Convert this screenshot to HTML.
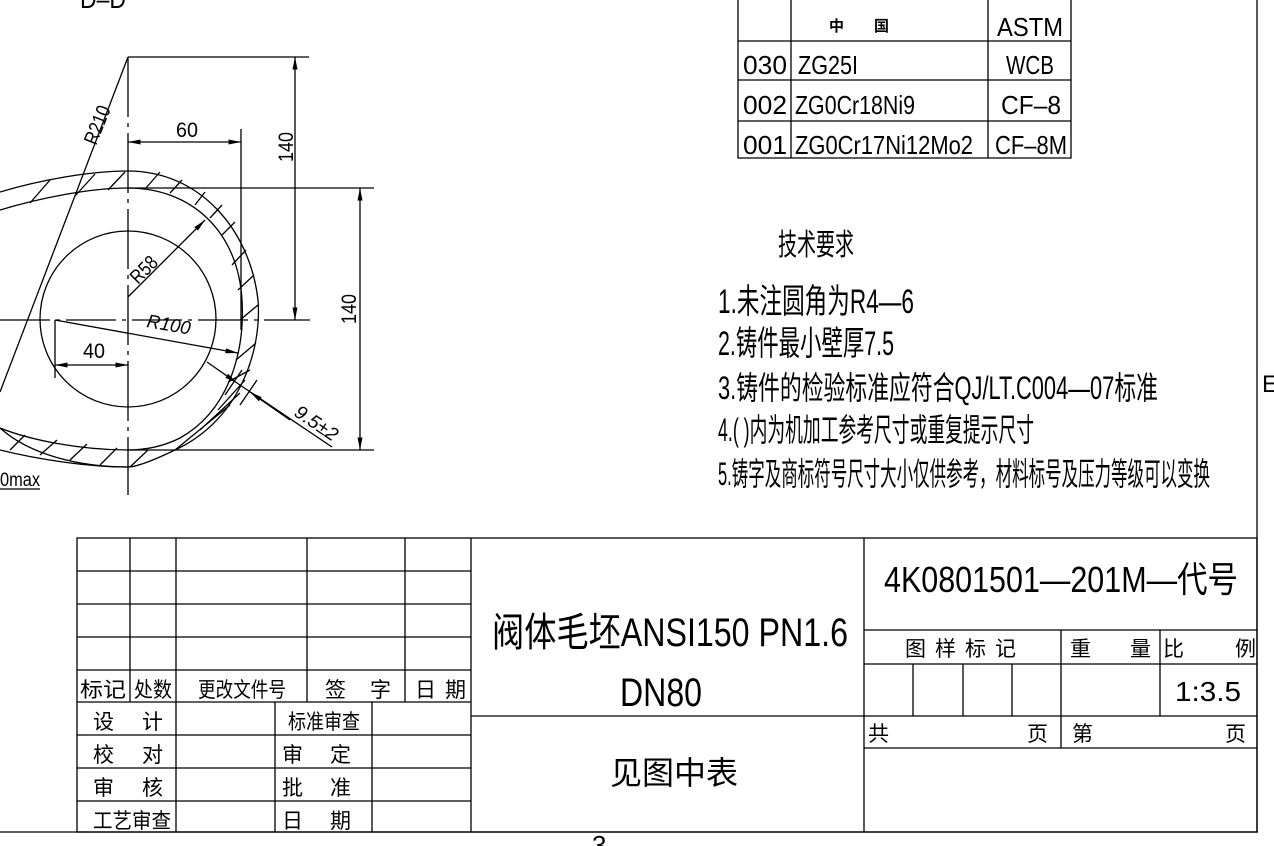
<!DOCTYPE html>
<html><head><meta charset="utf-8"><style>
html,body{margin:0;padding:0;background:#fff;}
svg{display:block;}
text{font-family:"Liberation Sans","Noto Sans CJK SC",sans-serif;fill:#000;}
</style></head><body>
<svg width="1274" height="846" viewBox="0 0 1274 846" xmlns="http://www.w3.org/2000/svg">
<defs>
<marker id="a" viewBox="0 0 10 4" refX="10" refY="2" markerWidth="14" markerHeight="5" orient="auto-start-reverse" markerUnits="userSpaceOnUse"><path d="M0,0L10,2L0,4z" fill="#000"/></marker>
</defs>
<g stroke="#000" fill="none" stroke-width="1.3">
<line x1="128" y1="57" x2="128" y2="495" stroke-dasharray="60,6,4,6"/>
<line x1="0" y1="320" x2="310" y2="320" stroke-dasharray="50,6,4,6"/>
<line x1="128" y1="57" x2="309" y2="57"/>
<line x1="128" y1="188" x2="374" y2="188"/>
<line x1="128" y1="450" x2="374" y2="450"/>
<line x1="128" y1="57" x2="0" y2="392"/>
<circle cx="128" cy="319" r="88"/>
<path d="M0,192 C40,180 90,171 128,171 C200,171 250,230 258,300 C262,350 240,420 175,450 C150,462 135,467 128,467 C80,467 30,455 0,428"/>
<path d="M0,210 C40,198 90,188 128,188 C190,188 238,230 242,300 C245,350 230,410 180,438 C160,448 140,450 128,450 C80,450 30,440 0,428"/>
<path d="M0,450 C40,460 90,467 128,467"/>
<path d="M30,203 L50,180 M75,196 L95,174 M108,190 L125,172 M145,189 L160,172 M170,193 L182,180 M195,205 L205,192 M210,218 L222,205 M222,235 L235,222 M232,265 L246,250 M238,290 L254,275 M240,320 L258,305 M236,360 L256,343 M228,382 L250,370 M218,410 L245,380 M200,430 L240,393 M175,450 L230,405 M130,467 L148,450 M100,465 L117,448 M70,460 L87,444 M40,455 L57,440 M10,450 L25,435"/>
<line x1="295" y1="57" x2="295" y2="320" marker-start="url(#a)" marker-end="url(#a)"/>
<line x1="360" y1="188" x2="360" y2="450" marker-start="url(#a)" marker-end="url(#a)"/>
<line x1="241" y1="129" x2="241" y2="330"/>
<line x1="128" y1="142" x2="241" y2="142" marker-start="url(#a)" marker-end="url(#a)"/>
<line x1="128" y1="297" x2="205" y2="220" marker-end="url(#a)"/>
<line x1="55" y1="320" x2="238" y2="353" marker-end="url(#a)"/>
<line x1="55" y1="320" x2="55" y2="378"/>
<line x1="55" y1="365" x2="128" y2="365" marker-start="url(#a)" marker-end="url(#a)"/>
<line x1="207" y1="362" x2="237" y2="383" marker-end="url(#a)"/>
<line x1="290" y1="420" x2="250" y2="392" marker-end="url(#a)"/>
<line x1="237" y1="383" x2="332" y2="447"/>
<line x1="242" y1="370" x2="225" y2="395"/><line x1="257" y1="380" x2="240" y2="405"/>
<line x1="0" y1="489" x2="40" y2="489"/>
<line x1="1257" y1="0" x2="1257" y2="832"/>
<line x1="0" y1="832" x2="1258" y2="832"/>
<rect x="77" y="538" width="1180" height="294"/>
<path d="M77,571H471M77,604H471M77,637H471M77,670H471M77,702H471M77,735H471M77,768H471M77,801H471"/>
<path d="M130,538V702M176,538V832M307,538V702M405,538V702M471,538V832M275,702V832M372,702V832"/>
<path d="M471,716H864M864,538V832"/>
<path d="M864,630H1257M864,664H1257M864,716H1257M864,748H1257"/>
<path d="M1061,630V748M1160,630V716M913,664V716M963,664V716M1012,664V716"/>
<path d="M738,0V158H1071V0M791,0V158M988,0V158M738,41H1071M738,80H1071M738,121H1071"/>
</g>
<g font-size="22">
<text x="80" y="8" font-size="26" textLength="46" lengthAdjust="spacingAndGlyphs">D–D</text>
<text x="176" y="137" font-size="21" textLength="22" lengthAdjust="spacingAndGlyphs">60</text>
<text x="83" y="358" font-size="21" textLength="22" lengthAdjust="spacingAndGlyphs">40</text>
<text transform="translate(293,162) rotate(-90)" font-size="21" textLength="30" lengthAdjust="spacingAndGlyphs">140</text>
<text transform="translate(356,324) rotate(-90)" font-size="21" textLength="30" lengthAdjust="spacingAndGlyphs">140</text>
<text transform="translate(96,146) rotate(-68)" font-size="20" textLength="40" lengthAdjust="spacingAndGlyphs">R210</text>
<text transform="translate(138,285) rotate(-45)" font-size="20" textLength="30" lengthAdjust="spacingAndGlyphs">R58</text>
<text transform="translate(146,327) rotate(10)" font-size="19" font-style="italic" textLength="44" lengthAdjust="spacingAndGlyphs">R100</text>
<text transform="translate(293,415) rotate(34)" font-size="19" font-style="italic" textLength="48" lengthAdjust="spacingAndGlyphs">9.5±2</text>
<text x="0" y="486" font-size="19" textLength="40" lengthAdjust="spacingAndGlyphs">0max</text>
<text x="1262" y="392" font-size="24">E</text>
<text x="592" y="854" font-size="26">3</text>
</g>
<g font-size="26">
<text x="829" y="31" font-size="15" font-weight="bold">中　　国</text>
<text x="997" y="36" textLength="66" lengthAdjust="spacingAndGlyphs">ASTM</text>
<text x="743" y="74" textLength="44" lengthAdjust="spacingAndGlyphs">030</text>
<text x="798" y="74" textLength="60" lengthAdjust="spacingAndGlyphs">ZG25I</text>
<text x="1006" y="74" textLength="48" lengthAdjust="spacingAndGlyphs">WCB</text>
<text x="743" y="114" textLength="44" lengthAdjust="spacingAndGlyphs">002</text>
<text x="795" y="114" textLength="120" lengthAdjust="spacingAndGlyphs">ZG0Cr18Ni9</text>
<text x="1001" y="114" textLength="60" lengthAdjust="spacingAndGlyphs">CF–8</text>
<text x="743" y="154" textLength="44" lengthAdjust="spacingAndGlyphs">001</text>
<text x="795" y="154" textLength="178" lengthAdjust="spacingAndGlyphs">ZG0Cr17Ni12Mo2</text>
<text x="995" y="154" textLength="72" lengthAdjust="spacingAndGlyphs">CF–8M</text>
</g>
<g>
<text x="778" y="255" font-size="30" textLength="76" lengthAdjust="spacingAndGlyphs">技术要求</text>
<text x="718" y="313" font-size="34" textLength="196" lengthAdjust="spacingAndGlyphs">1.未注圆角为R4—6</text>
<text x="718" y="355" font-size="34" textLength="176" lengthAdjust="spacingAndGlyphs">2.铸件最小壁厚7.5</text>
<text x="718" y="399" font-size="32" textLength="440" lengthAdjust="spacingAndGlyphs">3.铸件的检验标准应符合QJ/LT.C004—07标准</text>
<text x="718" y="441" font-size="32" textLength="316" lengthAdjust="spacingAndGlyphs">4.( )内为机加工参考尺寸或重复提示尺寸</text>
<text x="718" y="485" font-size="32" textLength="492" lengthAdjust="spacingAndGlyphs">5.铸字及商标符号尺寸大小仅供参考，材料标号及压力等级可以变换</text>
</g>
<g font-size="21">
<text x="80" y="697" textLength="46" lengthAdjust="spacingAndGlyphs">标记</text>
<text x="134" y="697" textLength="38" lengthAdjust="spacingAndGlyphs">处数</text>
<text x="198" y="697" textLength="88" lengthAdjust="spacingAndGlyphs">更改文件号</text>
<text x="325" y="697">签</text><text x="370" y="697">字</text>
<text x="415" y="697">日</text><text x="445" y="697">期</text>
<text x="93" y="729">设</text><text x="142" y="729">计</text>
<text x="93" y="762">校</text><text x="142" y="762">对</text>
<text x="93" y="795">审</text><text x="142" y="795">核</text>
<text x="93" y="828" textLength="78" lengthAdjust="spacingAndGlyphs">工艺审查</text>
<text x="288" y="729" textLength="72" lengthAdjust="spacingAndGlyphs">标准审查</text>
<text x="282" y="762">审</text><text x="330" y="762">定</text>
<text x="282" y="795">批</text><text x="330" y="795">准</text>
<text x="282" y="828">日</text><text x="330" y="828">期</text>
<text x="492" y="646" font-size="40" textLength="356" lengthAdjust="spacingAndGlyphs">阀体毛坯ANSI150 PN1.6</text>
<text x="620" y="706" font-size="40" textLength="82" lengthAdjust="spacingAndGlyphs">DN80</text>
<text x="610" y="784" font-size="32">见图中表</text>
<text x="884" y="592" font-size="36" textLength="354" lengthAdjust="spacingAndGlyphs">4K0801501—201M—代号</text>
<text x="905" y="656">图</text><text x="935" y="656">样</text><text x="965" y="656">标</text><text x="995" y="656">记</text>
<text x="1070" y="656">重</text><text x="1130" y="656">量</text>
<text x="1163" y="656">比</text><text x="1235" y="656">例</text>
<text x="1175" y="701" font-size="28" textLength="66" lengthAdjust="spacingAndGlyphs">1:3.5</text>
<text x="868" y="741">共</text><text x="1027" y="741">页</text>
<text x="1072" y="741">第</text><text x="1225" y="741">页</text>
</g>
</svg>
</body></html>
